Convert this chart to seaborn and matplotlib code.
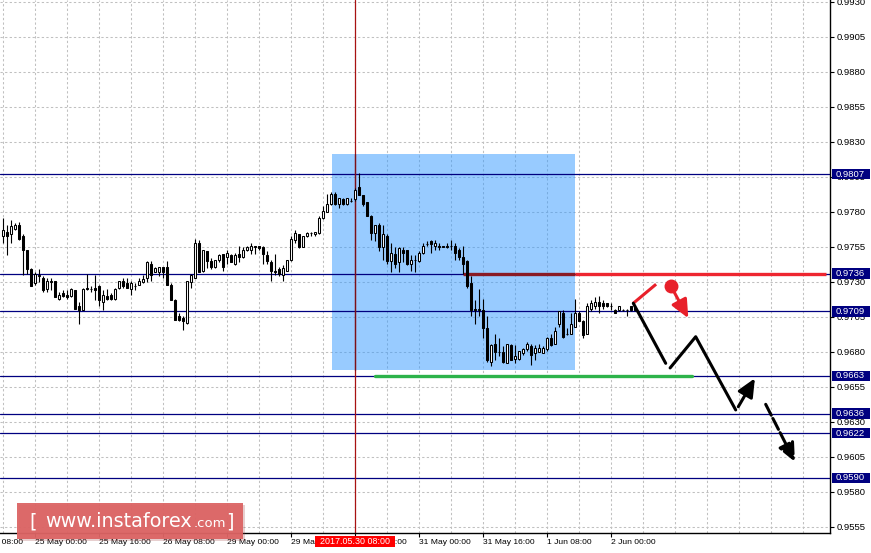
import numpy as np
import pandas as pd
import matplotlib
matplotlib.use("Agg")
import matplotlib.pyplot as plt
import matplotlib.transforms as mtransforms
from matplotlib.patches import Rectangle
import seaborn as sns

sns.set_theme(style="white")
plt.rcParams["font.family"] = ["Liberation Sans", "DejaVu Sans"]

# H1 bars, prices in pips (x 0.0001); bar index = trading hours since 24 May 00:00
first_bar = 16
opens = [
    9763, 9766, 9764, 9768, 9771, 9763, 9753, 9739, 9729, 9734, 9733, 9725, 9730, 9731, 9718, 9722,
    9721, 9720, 9724, 9713, 9710, 9726, 9725, 9726, 9727, 9716, 9720, 9721, 9718, 9726, 9731, 9729,
    9725, 9727, 9728, 9730, 9733, 9743, 9737, 9737, 9741, 9741, 9728, 9717, 9706, 9704, 9701, 9730,
    9733, 9758, 9738, 9752, 9745, 9741, 9746, 9750, 9748, 9749, 9743, 9750, 9748, 9753, 9753, 9756,
    9756, 9755, 9749, 9744, 9738, 9739, 9735, 9738, 9746, 9760, 9764, 9755, 9763, 9765, 9764, 9765,
    9776, 9780, 9786, 9793, 9786, 9789, 9786, 9788, 9789, 9798, 9792, 9787, 9777, 9765, 9771, 9755,
    9763, 9745, 9750, 9744, 9753, 9753, 9743, 9746, 9745, 9751, 9757, 9759, 9756, 9756, 9756, 9756,
    9756, 9756, 9753, 9748, 9745, 9729, 9711, 9710, 9710, 9697, 9673, 9686, 9680, 9680, 9672, 9685,
    9675, 9675, 9679, 9682, 9684, 9679, 9680, 9679, 9682, 9690, 9686, 9700, 9708, 9693, 9693, 9698,
    9708, 9702, 9693, 9711, 9713, 9716, 9715, 9715, 9713, 9710, 9710, 9710, 9710, 9713, 9712,
]
highs = [
    9776, 9771, 9774, 9772, 9773, 9764, 9753, 9740, 9737, 9739, 9734, 9733, 9733, 9731, 9723, 9724,
    9724, 9726, 9724, 9716, 9726, 9736, 9727, 9735, 9728, 9724, 9725, 9722, 9726, 9731, 9733, 9733,
    9731, 9729, 9733, 9735, 9745, 9745, 9741, 9741, 9741, 9745, 9729, 9718, 9708, 9706, 9731, 9736,
    9761, 9760, 9753, 9752, 9747, 9746, 9750, 9750, 9753, 9750, 9751, 9756, 9755, 9756, 9758, 9756,
    9756, 9756, 9752, 9746, 9750, 9741, 9742, 9746, 9763, 9767, 9764, 9763, 9766, 9766, 9766, 9777,
    9784, 9793, 9794, 9794, 9790, 9790, 9790, 9790, 9797, 9808, 9792, 9787, 9778, 9771, 9772, 9771,
    9764, 9758, 9755, 9755, 9755, 9753, 9749, 9749, 9752, 9758, 9759, 9760, 9760, 9758, 9756, 9758,
    9760, 9758, 9754, 9756, 9746, 9734, 9717, 9725, 9718, 9706, 9686, 9693, 9690, 9684, 9686, 9686,
    9685, 9681, 9683, 9687, 9686, 9685, 9686, 9684, 9691, 9693, 9698, 9709, 9710, 9697, 9708, 9718,
    9709, 9703, 9715, 9717, 9719, 9720, 9717, 9715, 9715, 9711, 9713, 9711, 9711, 9713, 9713,
]
lows = [
    9758, 9749, 9758, 9767, 9760, 9735, 9736, 9727, 9728, 9730, 9723, 9723, 9724, 9719, 9717, 9719,
    9718, 9719, 9711, 9700, 9710, 9724, 9723, 9717, 9713, 9710, 9717, 9717, 9717, 9725, 9726, 9726,
    9721, 9724, 9728, 9729, 9730, 9731, 9737, 9734, 9733, 9728, 9717, 9703, 9702, 9696, 9700, 9726,
    9733, 9737, 9737, 9740, 9739, 9740, 9744, 9738, 9743, 9744, 9742, 9744, 9747, 9752, 9750, 9750,
    9753, 9743, 9743, 9731, 9735, 9734, 9731, 9738, 9745, 9758, 9754, 9755, 9762, 9763, 9763, 9764,
    9775, 9780, 9785, 9785, 9783, 9785, 9785, 9787, 9788, 9792, 9784, 9777, 9760, 9759, 9752, 9746,
    9743, 9737, 9740, 9737, 9744, 9742, 9738, 9737, 9744, 9750, 9756, 9751, 9753, 9753, 9755, 9754,
    9753, 9746, 9746, 9736, 9726, 9706, 9700, 9706, 9690, 9673, 9670, 9674, 9677, 9672, 9672, 9674,
    9672, 9674, 9678, 9681, 9671, 9674, 9680, 9679, 9681, 9684, 9686, 9698, 9690, 9692, 9693, 9698,
    9702, 9690, 9693, 9709, 9711, 9708, 9711, 9712, 9710, 9708, 9709, 9709, 9706, 9709, 9709,
]
closes = [
    9767, 9763, 9770, 9771, 9761, 9753, 9739, 9727, 9736, 9735, 9724, 9731, 9731, 9719, 9721, 9720,
    9719, 9725, 9711, 9710, 9725, 9725, 9725, 9724, 9717, 9721, 9718, 9718, 9725, 9731, 9727, 9726,
    9729, 9727, 9731, 9732, 9744, 9735, 9740, 9741, 9737, 9728, 9717, 9703, 9703, 9702, 9731, 9735,
    9758, 9737, 9753, 9745, 9741, 9746, 9749, 9741, 9751, 9744, 9749, 9748, 9753, 9755, 9756, 9755,
    9754, 9750, 9745, 9738, 9737, 9736, 9740, 9746, 9761, 9765, 9755, 9763, 9765, 9765, 9766, 9776,
    9781, 9786, 9793, 9786, 9790, 9786, 9790, 9788, 9796, 9792, 9786, 9777, 9765, 9771, 9755, 9764,
    9745, 9751, 9743, 9754, 9751, 9743, 9746, 9746, 9751, 9756, 9757, 9757, 9758, 9755, 9755, 9755,
    9756, 9751, 9748, 9743, 9727, 9710, 9710, 9711, 9697, 9674, 9685, 9680, 9680, 9673, 9686, 9674,
    9677, 9681, 9682, 9686, 9678, 9683, 9683, 9683, 9690, 9685, 9695, 9709, 9691, 9693, 9700, 9708,
    9702, 9692, 9713, 9715, 9716, 9713, 9713, 9713, 9713, 9708, 9713, 9710, 9710, 9710, 9710,
]

time_ticks = [8, 24, 40, 56, 72, 88, 104, 120, 136, 152, 168]
time_labels = ["24 May 08:00", "25 May 00:00", "25 May 16:00", "26 May 08:00", "29 May 00:00",
               "29 May 16:00", "30 May 08:00", "31 May 00:00", "31 May 16:00", "1 Jun 08:00",
               "2 Jun 00:00"]
price_ticks = [0.9555, 0.9580, 0.9605, 0.9630, 0.9655, 0.9680, 0.9705, 0.9730,
               0.9755, 0.9780, 0.9805, 0.9830, 0.9855, 0.9880, 0.9905, 0.9930]
levels = [0.9807, 0.9736, 0.9709, 0.9663, 0.9636, 0.9622, 0.9590]

cursor_bar = 104
cursor_label = "2017.05.30 08:00"

df = pd.DataFrame({"open": opens, "high": highs, "low": lows, "close": closes}) / 10000
df["bar"] = np.arange(first_bar, first_bar + len(df))
df["up"] = df["close"] >= df["open"]

fig = plt.figure(figsize=(8.71, 5.53), dpi=100)
ax = fig.add_axes([0, 20 / 553, 830 / 871, 533 / 553])

# grid / ticks
ax.set_axisbelow(True)
ax.set_xticks(time_ticks)
ax.set_xticklabels([""] * len(time_ticks))
ax.set_xticks(np.arange(16, 223, 8), minor=True)
ax.yaxis.tick_right()
ax.set_yticks(price_ticks)
ax.set_yticklabels([f"{p:.4f}" for p in price_ticks])
ax.grid(True, which="both", color="#c0c0c0", linestyle=(0, (2.2, 2.2)), lw=0.75)
ax.tick_params(axis="x", which="minor", length=0)
ax.tick_params(axis="x", which="major", bottom=True, length=3, width=0.8, color="black")
ax.tick_params(axis="y", right=True, length=3, width=0.8, color="black",
               labelsize=6.8, labelcolor="black", pad=2)
for s in ["left", "top"]:
    ax.spines[s].set_visible(False)
for s in ["right", "bottom"]:
    ax.spines[s].set_color("black")
    ax.spines[s].set_linewidth(1)

# analysis box
box_x0, box_x1, box_y0, box_y1 = 98.2, 158.9, 0.96671, 0.98214
ax.add_patch(Rectangle((box_x0, box_y0), box_x1 - box_x0, box_y1 - box_y0,
                       facecolor="#3399ff", alpha=0.5, lw=0, zorder=0.8))

for lv in levels:
    ax.axhline(lv, color="#000080", lw=0.9, zorder=2)

# crosshair
ax.axvline(cursor_bar, color="#a81212", lw=0.9, zorder=2)
ax.plot([cursor_bar, cursor_bar], [box_y0, box_y1], color="#7a1018", lw=0.9, zorder=2.1)

# resistance / support
ax.plot([130.9, box_x1], [0.9736, 0.9736], color="#8a1a24", lw=2.4, zorder=2.5, solid_capstyle="butt")
ax.plot([box_x1, 221.7], [0.9736, 0.9736], color="#ee2630", lw=2.4, zorder=2.5, solid_capstyle="butt")
sns.lineplot(x=[108.9, 188.2], y=[0.9663, 0.9663], color="#2db34a", lw=2.4, ax=ax, zorder=2.5)

# candles
ax.vlines(df["bar"], df["low"], df["high"], color="black", lw=0.8, zorder=3)
body_lo = df[["open", "close"]].min(axis=1)
body_h = (df["close"] - df["open"]).abs()
ax.bar(df["bar"], body_h, bottom=body_lo, width=0.55,
       color=np.where(df["up"], "white", "black"), edgecolor="black", lw=0.75, zorder=4)

# forecast drawing
ax.plot([173.5, 179.2], [0.97148, 0.97284], color="#e8202a", lw=2.2, zorder=5, solid_capstyle="butt")
ax.plot([182.9], [0.97271], "o", ms=9, color="#e8202a", zorder=5)
head = "-|>,head_length=1.1,head_width=0.5"
ax.annotate("", xy=(187.25, 0.97041), xytext=(182.9, 0.97271),
            arrowprops=dict(arrowstyle=head, mutation_scale=10, lw=2.2, color="#e8202a",
                            shrinkA=0, shrinkB=0), zorder=5)
ax.plot([173.5, 181.6], [0.97148, 0.96719], color="black", lw=2.2, zorder=5)
ax.plot([182.7, 189.1, 199.1], [0.96686, 0.96909, 0.96386], color="black", lw=2.2, zorder=5)
ax.annotate("", xy=(203.9, 0.96612), xytext=(199.75, 0.96409),
            arrowprops=dict(arrowstyle=head, mutation_scale=10, lw=2.2, color="black",
                            shrinkA=0, shrinkB=0), zorder=5)
ax.annotate("", xy=(213.9, 0.96016), xytext=(206.6, 0.96426),
            arrowprops=dict(arrowstyle=head, mutation_scale=10, lw=2.2, color="black",
                            linestyle=(0, (4, 1.2)), shrinkA=0, shrinkB=0), zorder=5)

# view limits last (set_xticks would widen them)
ax.set_xlim(15.175, 222.675)
ax.set_ylim(0.95507, 0.99314)

# time labels
tx = mtransforms.blended_transform_factory(ax.transData, ax.transAxes)
for t, lab in zip(time_ticks, time_labels):
    ax.text(t, -0.012, lab, transform=tx, ha="left", va="top", fontsize=6.1,
            color="black", clip_on=False)
ax.add_patch(Rectangle((cursor_bar - 10, -14 / 533), 20, 11 / 533, transform=tx,
                       facecolor="#ff0000", lw=0, clip_on=False, zorder=10))
ax.text(cursor_bar, -8.5 / 533, cursor_label, transform=tx, ha="center", va="center",
        fontsize=6.4, color="white", clip_on=False, zorder=11)

# price level labels on the right scale
ty = mtransforms.blended_transform_factory(ax.transAxes, ax.transData)
for lv in levels:
    ax.add_patch(Rectangle((832 / 830, lv - 0.00037), 38 / 830, 0.00074, transform=ty,
                           facecolor="#000080", lw=0, clip_on=False, zorder=10))
    ax.text(836 / 830, lv, f"{lv:.4f}", transform=ty, ha="left", va="center",
            fontsize=6.8, color="white", clip_on=False, zorder=11)

# watermark
W, H = 871, 553
fig.add_artist(Rectangle((19 / W, 1 - 541 / H), 226 / W, 36 / H, transform=fig.transFigure,
                         facecolor="#a04040", alpha=0.25, lw=0, zorder=19))
fig.add_artist(Rectangle((17 / W, 1 - 539 / H), 226 / W, 36 / H, transform=fig.transFigure,
                         facecolor="#dc6464", alpha=0.95, lw=0, zorder=20))
fig.text(29 / W, 1 - 527 / H, "[", fontsize=14, color="white", family="DejaVu Sans",
         va="baseline", zorder=21)
fig.text(45 / W, 1 - 527 / H, "www.instaforex", fontsize=13.8, color="white",
         family="DejaVu Sans", va="baseline", zorder=21)
fig.text(194 / W, 1 - 527 / H, ".com", fontsize=9.5, color="white", family="DejaVu Sans",
         va="baseline", zorder=21)
fig.text(226 / W, 1 - 527 / H, "]", fontsize=14, color="white", family="DejaVu Sans",
         va="baseline", zorder=21)

fig.savefig("out.png", dpi=100, facecolor="white")
